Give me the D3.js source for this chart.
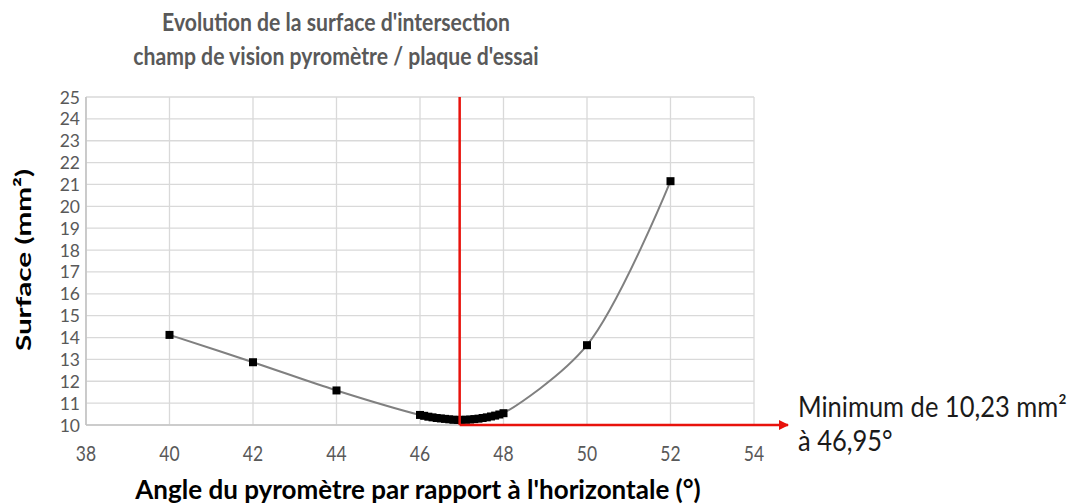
<!DOCTYPE html>
<html>
<head>
<meta charset="utf-8">
<script src="https://cdn.jsdelivr.net/npm/d3@7"></script>
<style>
  html, body { margin: 0; padding: 0; background: #fff; }
  svg { display: block; }
  text { font-family: Lato, "Open Sans", "Liberation Sans", sans-serif; }
</style>
</head>
<body>
<svg id="chart" width="1086" height="504"></svg>
<script>
// Angle (°) and intersection surface (mm²)
const angles = [40, 42, 44,
  46.0, 46.1, 46.2, 46.3, 46.4, 46.5, 46.6, 46.7, 46.8, 46.9, 46.95,
  47.0, 47.1, 47.2, 47.3, 47.4, 47.5, 47.6, 47.7, 47.8, 47.9, 48.0,
  50, 52];
const surfaces = [14.12, 12.87, 11.58,
  10.46, 10.42, 10.38, 10.35, 10.32, 10.30, 10.28, 10.26, 10.24, 10.235, 10.23,
  10.235, 10.24, 10.25, 10.27, 10.29, 10.32, 10.35, 10.39, 10.43, 10.48, 10.54,
  13.65, 21.15];

const xTicks = [38, 40, 42, 44, 46, 48, 50, 52, 54];
const yTicks = [10, 11, 12, 13, 14, 15, 16, 17, 18, 19, 20, 21, 22, 23, 24, 25];

const titleLines = ["Evolution de la surface d'intersection",
                    "champ de vision pyromètre / plaque d'essai"];
const xTitle = "Angle du pyromètre par rapport à l'horizontale (°)";
const yTitle = "Surface (mm²)";
const minAngle = 46.95, minSurface = 10.23;
const noteLines = ["Minimum de 10,23 mm²", "à 46,95°"];

const points = angles.map((a, i) => ({x: a, y: surfaces[i]}));

(function draw() {
  const svg = d3.select("#chart");
  const plotLeft = 86, plotRight = 754, plotTop = 97, plotBottom = 425;
  const stretch = 1.22;   // glyphs are drawn slightly tall

  const x = d3.scaleLinear().domain([38, 54]).range([plotLeft, plotRight]);
  const y = d3.scaleLinear().domain([10, 25]).range([plotBottom, plotTop]);

  // text placed at a baseline point, optionally stretched vertically
  function label(parent, px, py, str, o) {
    return parent.append("text")
      .attr("transform", `translate(${px},${py}) scale(1,${o.sy || stretch})` + (o.rotate ? ` rotate(${o.rotate})` : ""))
      .attr("text-anchor", o.anchor || "start")
      .attr("font-size", o.size)
      .attr("font-weight", o.weight || "normal")
      .attr("fill", o.fill || "#000")
      .text(str);
  }

  // gridlines
  const grid = svg.append("g");
  grid.selectAll("line.h").data(yTicks).join("line")
    .attr("class", "h")
    .attr("x1", plotLeft).attr("x2", plotRight)
    .attr("y1", d => y(d)).attr("y2", d => y(d))
    .attr("stroke", "#d9d9d9").attr("stroke-width", 1.3);
  grid.selectAll("line.v").data(xTicks).join("line")
    .attr("class", "v")
    .attr("y1", plotTop).attr("y2", plotBottom)
    .attr("x1", d => x(d)).attr("x2", d => x(d))
    .attr("stroke", "#d9d9d9").attr("stroke-width", 1.3);

  // axis lines
  svg.append("line").attr("x1", plotLeft).attr("x2", plotRight)
    .attr("y1", plotBottom).attr("y2", plotBottom)
    .attr("stroke", "#c4c4c4").attr("stroke-width", 1.6);
  svg.append("line").attr("x1", plotLeft).attr("x2", plotLeft)
    .attr("y1", plotTop).attr("y2", plotBottom)
    .attr("stroke", "#c4c4c4").attr("stroke-width", 1.6);

  // tick labels
  const tickG = svg.append("g");
  xTicks.forEach(t => label(tickG, x(t), 461, String(t),
    {size: 17.5, anchor: "middle", fill: "#595959"}));
  yTicks.forEach(t => label(tickG, 80, y(t) + 6.5, String(t),
    {size: 17.5, anchor: "end", fill: "#595959", sy: 1.0}));

  // smoothed curve
  const line = d3.line().x(d => x(d.x)).y(d => y(d.y)).curve(d3.curveCatmullRom.alpha(0.5));
  svg.append("path").datum(points)
    .attr("d", line).attr("fill", "none")
    .attr("stroke", "#808080").attr("stroke-width", 2);

  // markers
  svg.selectAll("rect.pt").data(points).join("rect")
    .attr("class", "pt")
    .attr("x", d => x(d.x) - 4).attr("y", d => y(d.y) - 4)
    .attr("width", 8).attr("height", 8).attr("fill", "#000");

  // minimum marker lines
  svg.append("defs").append("marker")
    .attr("id", "arrow").attr("viewBox", "0 0 10 10")
    .attr("refX", 9).attr("refY", 5)
    .attr("markerWidth", 4.4).attr("markerHeight", 4)
    .attr("orient", "auto")
    .append("path").attr("d", "M0,0L10,5L0,10Z").attr("fill", "#e8120c");

  svg.append("line")
    .attr("x1", x(minAngle)).attr("x2", x(minAngle))
    .attr("y1", y(25)).attr("y2", y(10))
    .attr("stroke", "#e8120c").attr("stroke-width", 2.5);
  svg.append("line")
    .attr("x1", x(minAngle)).attr("x2", 788)
    .attr("y1", y(10)).attr("y2", y(10))
    .attr("stroke", "#e8120c").attr("stroke-width", 2.5)
    .attr("marker-end", "url(#arrow)");

  // annotation
  const note = svg.append("g");
  noteLines.forEach((s, i) => label(note, 798, 417 + i * 34, s,
    {size: 25.5, fill: "#1a1a1a", sy: 1.1}));

  // titles
  const titleG = svg.append("g");
  titleLines.forEach((s, i) => label(titleG, 336, 31 + i * 34, s,
    {size: 21.2, weight: "bold", anchor: "middle", fill: "#595959", sy: 1.15}));

  label(svg, 418, 499, xTitle,
    {size: 26, weight: "bold", anchor: "middle", fill: "#000", sy: 1.0});

  label(svg, 31, 260, yTitle,
    {size: 21.5, weight: "bold", anchor: "middle", fill: "#000", sy: 1.38, rotate: -90});
})();
</script>
</body>
</html>
